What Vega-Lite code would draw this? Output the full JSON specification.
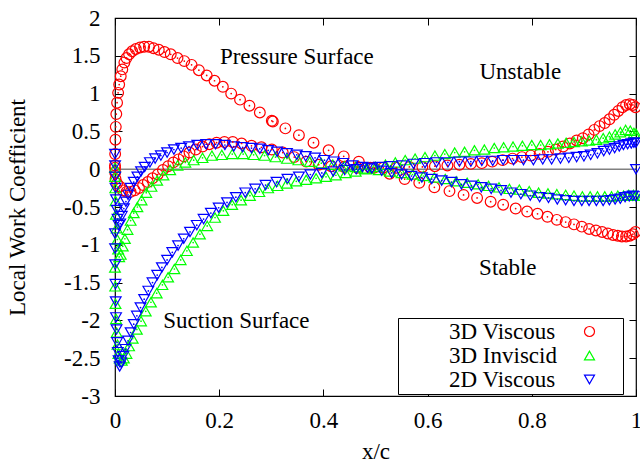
{
"$schema": "https://vega.github.io/schema/vega-lite/v6.json",
"autosize": "none",
"width": 521, "height": 378,
"padding": {"left": 115, "top": 18, "right": 4, "bottom": 70},
"background": "white",
"datasets": {
"pts": [
{"s":"3D Viscous","x":0,"y":0.02},{"s":"3D Viscous","x":0.0003,"y":0.2},{"s":"3D Viscous","x":0.0008,"y":0.39},{"s":"3D Viscous","x":0.0015,"y":0.56},{"s":"3D Viscous","x":0.0025,"y":0.73},{"s":"3D Viscous","x":0.004,"y":0.88},{"s":"3D Viscous","x":0.006,"y":1.01},{"s":"3D Viscous","x":0.008,"y":1.12},{"s":"3D Viscous","x":0.011,"y":1.23},{"s":"3D Viscous","x":0.014,"y":1.32},{"s":"3D Viscous","x":0.018,"y":1.41},{"s":"3D Viscous","x":0.022,"y":1.47},{"s":"3D Viscous","x":0.027,"y":1.52},{"s":"3D Viscous","x":0.033,"y":1.56},{"s":"3D Viscous","x":0.04,"y":1.59},{"s":"3D Viscous","x":0.048,"y":1.61},{"s":"3D Viscous","x":0.056,"y":1.62},{"s":"3D Viscous","x":0.065,"y":1.62},{"s":"3D Viscous","x":0.074,"y":1.6},{"s":"3D Viscous","x":0.084,"y":1.58},{"s":"3D Viscous","x":0.095,"y":1.55},{"s":"3D Viscous","x":0.107,"y":1.52},{"s":"3D Viscous","x":0.12,"y":1.47},{"s":"3D Viscous","x":0.133,"y":1.43},{"s":"3D Viscous","x":0.147,"y":1.38},{"s":"3D Viscous","x":0.161,"y":1.31},{"s":"3D Viscous","x":0.176,"y":1.24},{"s":"3D Viscous","x":0.191,"y":1.17},{"s":"3D Viscous","x":0.207,"y":1.09},{"s":"3D Viscous","x":0.223,"y":1.0},{"s":"3D Viscous","x":0.24,"y":0.92},{"s":"3D Viscous","x":0.258,"y":0.84},{"s":"3D Viscous","x":0.278,"y":0.75},{"s":"3D Viscous","x":0.301,"y":0.64},{"s":"3D Viscous","x":0.303,"y":0.63},{"s":"3D Viscous","x":0.327,"y":0.54},{"s":"3D Viscous","x":0.353,"y":0.45},{"s":"3D Viscous","x":0.381,"y":0.35},{"s":"3D Viscous","x":0.41,"y":0.25},{"s":"3D Viscous","x":0.439,"y":0.17},{"s":"3D Viscous","x":0.468,"y":0.1},{"s":"3D Viscous","x":0.497,"y":0.02},{"s":"3D Viscous","x":0.527,"y":-0.06},{"s":"3D Viscous","x":0.556,"y":-0.13},{"s":"3D Viscous","x":0.584,"y":-0.18},{"s":"3D Viscous","x":0.613,"y":-0.24},{"s":"3D Viscous","x":0.642,"y":-0.29},{"s":"3D Viscous","x":0.669,"y":-0.34},{"s":"3D Viscous","x":0.695,"y":-0.38},{"s":"3D Viscous","x":0.721,"y":-0.43},{"s":"3D Viscous","x":0.745,"y":-0.47},{"s":"3D Viscous","x":0.769,"y":-0.52},{"s":"3D Viscous","x":0.791,"y":-0.56},{"s":"3D Viscous","x":0.811,"y":-0.59},{"s":"3D Viscous","x":0.83,"y":-0.63},{"s":"3D Viscous","x":0.848,"y":-0.67},{"s":"3D Viscous","x":0.865,"y":-0.7},{"s":"3D Viscous","x":0.881,"y":-0.73},{"s":"3D Viscous","x":0.896,"y":-0.76},{"s":"3D Viscous","x":0.91,"y":-0.79},{"s":"3D Viscous","x":0.923,"y":-0.81},{"s":"3D Viscous","x":0.935,"y":-0.83},{"s":"3D Viscous","x":0.946,"y":-0.85},{"s":"3D Viscous","x":0.956,"y":-0.87},{"s":"3D Viscous","x":0.965,"y":-0.88},{"s":"3D Viscous","x":0.973,"y":-0.89},{"s":"3D Viscous","x":0.981,"y":-0.89},{"s":"3D Viscous","x":0.988,"y":-0.88},{"s":"3D Viscous","x":0.994,"y":-0.86},{"s":"3D Viscous","x":0.999,"y":-0.83},
{"s":"3D Viscous","x":0,"y":0.05},{"s":"3D Viscous","x":0.0003,"y":-0.04},{"s":"3D Viscous","x":0.001,"y":-0.13},{"s":"3D Viscous","x":0.004,"y":-0.19},{"s":"3D Viscous","x":0.009,"y":-0.23},{"s":"3D Viscous","x":0.015,"y":-0.28},{"s":"3D Viscous","x":0.022,"y":-0.3},{"s":"3D Viscous","x":0.03,"y":-0.3},{"s":"3D Viscous","x":0.038,"y":-0.28},{"s":"3D Viscous","x":0.046,"y":-0.25},{"s":"3D Viscous","x":0.054,"y":-0.21},{"s":"3D Viscous","x":0.063,"y":-0.17},{"s":"3D Viscous","x":0.072,"y":-0.12},{"s":"3D Viscous","x":0.082,"y":-0.07},{"s":"3D Viscous","x":0.092,"y":-0.01},{"s":"3D Viscous","x":0.102,"y":0.04},{"s":"3D Viscous","x":0.112,"y":0.09},{"s":"3D Viscous","x":0.122,"y":0.13},{"s":"3D Viscous","x":0.132,"y":0.17},{"s":"3D Viscous","x":0.143,"y":0.22},{"s":"3D Viscous","x":0.155,"y":0.26},{"s":"3D Viscous","x":0.168,"y":0.3},{"s":"3D Viscous","x":0.181,"y":0.33},{"s":"3D Viscous","x":0.195,"y":0.35},{"s":"3D Viscous","x":0.21,"y":0.36},{"s":"3D Viscous","x":0.226,"y":0.36},{"s":"3D Viscous","x":0.243,"y":0.34},{"s":"3D Viscous","x":0.262,"y":0.31},{"s":"3D Viscous","x":0.281,"y":0.29},{"s":"3D Viscous","x":0.301,"y":0.26},{"s":"3D Viscous","x":0.322,"y":0.22},{"s":"3D Viscous","x":0.344,"y":0.16},{"s":"3D Viscous","x":0.367,"y":0.1},{"s":"3D Viscous","x":0.391,"y":0.06},{"s":"3D Viscous","x":0.415,"y":0.04},{"s":"3D Viscous","x":0.44,"y":0.03},{"s":"3D Viscous","x":0.465,"y":0.02},{"s":"3D Viscous","x":0.49,"y":0.02},{"s":"3D Viscous","x":0.515,"y":0.02},{"s":"3D Viscous","x":0.54,"y":0.02},{"s":"3D Viscous","x":0.565,"y":0.03},{"s":"3D Viscous","x":0.59,"y":0.03},{"s":"3D Viscous","x":0.614,"y":0.04},{"s":"3D Viscous","x":0.638,"y":0.05},{"s":"3D Viscous","x":0.661,"y":0.06},{"s":"3D Viscous","x":0.683,"y":0.07},{"s":"3D Viscous","x":0.704,"y":0.08},{"s":"3D Viscous","x":0.724,"y":0.1},{"s":"3D Viscous","x":0.744,"y":0.12},{"s":"3D Viscous","x":0.763,"y":0.14},{"s":"3D Viscous","x":0.781,"y":0.16},{"s":"3D Viscous","x":0.798,"y":0.18},{"s":"3D Viscous","x":0.815,"y":0.2},{"s":"3D Viscous","x":0.831,"y":0.23},{"s":"3D Viscous","x":0.846,"y":0.26},{"s":"3D Viscous","x":0.86,"y":0.3},{"s":"3D Viscous","x":0.873,"y":0.34},{"s":"3D Viscous","x":0.886,"y":0.38},{"s":"3D Viscous","x":0.898,"y":0.41},{"s":"3D Viscous","x":0.909,"y":0.46},{"s":"3D Viscous","x":0.92,"y":0.52},{"s":"3D Viscous","x":0.93,"y":0.57},{"s":"3D Viscous","x":0.94,"y":0.61},{"s":"3D Viscous","x":0.949,"y":0.66},{"s":"3D Viscous","x":0.958,"y":0.72},{"s":"3D Viscous","x":0.966,"y":0.77},{"s":"3D Viscous","x":0.974,"y":0.82},{"s":"3D Viscous","x":0.981,"y":0.85},{"s":"3D Viscous","x":0.988,"y":0.86},{"s":"3D Viscous","x":0.994,"y":0.85},{"s":"3D Viscous","x":0.999,"y":0.82},
{"s":"3D Inviscid","x":0,"y":0.02},{"s":"3D Inviscid","x":0.0002,"y":-0.1},{"s":"3D Inviscid","x":0.0005,"y":-0.25},{"s":"3D Inviscid","x":0.001,"y":-0.42},{"s":"3D Inviscid","x":0.0018,"y":-0.6},{"s":"3D Inviscid","x":0.003,"y":-0.78},{"s":"3D Inviscid","x":0.0045,"y":-0.93},{"s":"3D Inviscid","x":0.006,"y":-1.06},{"s":"3D Inviscid","x":0.008,"y":-1.16},{"s":"3D Inviscid","x":0.011,"y":-1.13},{"s":"3D Inviscid","x":0.015,"y":-1.02},{"s":"3D Inviscid","x":0.019,"y":-0.92},{"s":"3D Inviscid","x":0.024,"y":-0.8},{"s":"3D Inviscid","x":0.03,"y":-0.68},{"s":"3D Inviscid","x":0.036,"y":-0.58},{"s":"3D Inviscid","x":0.043,"y":-0.5},{"s":"3D Inviscid","x":0.051,"y":-0.41},{"s":"3D Inviscid","x":0.06,"y":-0.31},{"s":"3D Inviscid","x":0.07,"y":-0.23},{"s":"3D Inviscid","x":0.081,"y":-0.15},{"s":"3D Inviscid","x":0.093,"y":-0.08},{"s":"3D Inviscid","x":0.106,"y":-0.01},{"s":"3D Inviscid","x":0.12,"y":0.05},{"s":"3D Inviscid","x":0.135,"y":0.09},{"s":"3D Inviscid","x":0.151,"y":0.12},{"s":"3D Inviscid","x":0.168,"y":0.15},{"s":"3D Inviscid","x":0.186,"y":0.18},{"s":"3D Inviscid","x":0.205,"y":0.19},{"s":"3D Inviscid","x":0.225,"y":0.2},{"s":"3D Inviscid","x":0.246,"y":0.2},{"s":"3D Inviscid","x":0.266,"y":0.19},{"s":"3D Inviscid","x":0.287,"y":0.18},{"s":"3D Inviscid","x":0.308,"y":0.16},{"s":"3D Inviscid","x":0.33,"y":0.14},{"s":"3D Inviscid","x":0.352,"y":0.12},{"s":"3D Inviscid","x":0.374,"y":0.1},{"s":"3D Inviscid","x":0.396,"y":0.08},{"s":"3D Inviscid","x":0.418,"y":0.06},{"s":"3D Inviscid","x":0.44,"y":0.04},{"s":"3D Inviscid","x":0.462,"y":0.03},{"s":"3D Inviscid","x":0.484,"y":0.01},{"s":"3D Inviscid","x":0.506,"y":-0.01},{"s":"3D Inviscid","x":0.528,"y":-0.03},{"s":"3D Inviscid","x":0.55,"y":-0.05},{"s":"3D Inviscid","x":0.571,"y":-0.07},{"s":"3D Inviscid","x":0.592,"y":-0.09},{"s":"3D Inviscid","x":0.613,"y":-0.11},{"s":"3D Inviscid","x":0.634,"y":-0.13},{"s":"3D Inviscid","x":0.655,"y":-0.16},{"s":"3D Inviscid","x":0.676,"y":-0.18},{"s":"3D Inviscid","x":0.697,"y":-0.2},{"s":"3D Inviscid","x":0.717,"y":-0.22},{"s":"3D Inviscid","x":0.737,"y":-0.24},{"s":"3D Inviscid","x":0.757,"y":-0.26},{"s":"3D Inviscid","x":0.776,"y":-0.27},{"s":"3D Inviscid","x":0.795,"y":-0.29},{"s":"3D Inviscid","x":0.813,"y":-0.31},{"s":"3D Inviscid","x":0.831,"y":-0.32},{"s":"3D Inviscid","x":0.848,"y":-0.33},{"s":"3D Inviscid","x":0.865,"y":-0.34},{"s":"3D Inviscid","x":0.881,"y":-0.35},{"s":"3D Inviscid","x":0.897,"y":-0.36},{"s":"3D Inviscid","x":0.912,"y":-0.36},{"s":"3D Inviscid","x":0.926,"y":-0.36},{"s":"3D Inviscid","x":0.94,"y":-0.36},{"s":"3D Inviscid","x":0.953,"y":-0.36},{"s":"3D Inviscid","x":0.965,"y":-0.35},{"s":"3D Inviscid","x":0.976,"y":-0.35},{"s":"3D Inviscid","x":0.986,"y":-0.34},{"s":"3D Inviscid","x":0.995,"y":-0.34},{"s":"3D Inviscid","x":1,"y":-0.35},
{"s":"3D Inviscid","x":0,"y":-1.3},{"s":"3D Inviscid","x":0.0004,"y":-1.55},{"s":"3D Inviscid","x":0.001,"y":-1.78},{"s":"3D Inviscid","x":0.002,"y":-1.98},{"s":"3D Inviscid","x":0.0032,"y":-2.16},{"s":"3D Inviscid","x":0.0047,"y":-2.32},{"s":"3D Inviscid","x":0.0065,"y":-2.44},{"s":"3D Inviscid","x":0.009,"y":-2.5},{"s":"3D Inviscid","x":0.013,"y":-2.53},{"s":"3D Inviscid","x":0.017,"y":-2.5},{"s":"3D Inviscid","x":0.022,"y":-2.44},{"s":"3D Inviscid","x":0.027,"y":-2.34},{"s":"3D Inviscid","x":0.034,"y":-2.24},{"s":"3D Inviscid","x":0.042,"y":-2.12},{"s":"3D Inviscid","x":0.05,"y":-2.01},{"s":"3D Inviscid","x":0.059,"y":-1.88},{"s":"3D Inviscid","x":0.069,"y":-1.76},{"s":"3D Inviscid","x":0.08,"y":-1.64},{"s":"3D Inviscid","x":0.091,"y":-1.53},{"s":"3D Inviscid","x":0.102,"y":-1.43},{"s":"3D Inviscid","x":0.114,"y":-1.32},{"s":"3D Inviscid","x":0.126,"y":-1.2},{"s":"3D Inviscid","x":0.138,"y":-1.08},{"s":"3D Inviscid","x":0.15,"y":-0.97},{"s":"3D Inviscid","x":0.163,"y":-0.86},{"s":"3D Inviscid","x":0.177,"y":-0.75},{"s":"3D Inviscid","x":0.192,"y":-0.64},{"s":"3D Inviscid","x":0.208,"y":-0.55},{"s":"3D Inviscid","x":0.225,"y":-0.47},{"s":"3D Inviscid","x":0.242,"y":-0.41},{"s":"3D Inviscid","x":0.259,"y":-0.35},{"s":"3D Inviscid","x":0.277,"y":-0.3},{"s":"3D Inviscid","x":0.294,"y":-0.25},{"s":"3D Inviscid","x":0.312,"y":-0.22},{"s":"3D Inviscid","x":0.33,"y":-0.19},{"s":"3D Inviscid","x":0.348,"y":-0.16},{"s":"3D Inviscid","x":0.367,"y":-0.14},{"s":"3D Inviscid","x":0.386,"y":-0.12},{"s":"3D Inviscid","x":0.405,"y":-0.1},{"s":"3D Inviscid","x":0.424,"y":-0.08},{"s":"3D Inviscid","x":0.443,"y":-0.05},{"s":"3D Inviscid","x":0.462,"y":-0.03},{"s":"3D Inviscid","x":0.481,"y":0.0},{"s":"3D Inviscid","x":0.5,"y":0.03},{"s":"3D Inviscid","x":0.519,"y":0.06},{"s":"3D Inviscid","x":0.538,"y":0.09},{"s":"3D Inviscid","x":0.557,"y":0.12},{"s":"3D Inviscid","x":0.576,"y":0.14},{"s":"3D Inviscid","x":0.595,"y":0.16},{"s":"3D Inviscid","x":0.614,"y":0.18},{"s":"3D Inviscid","x":0.633,"y":0.2},{"s":"3D Inviscid","x":0.652,"y":0.22},{"s":"3D Inviscid","x":0.671,"y":0.23},{"s":"3D Inviscid","x":0.69,"y":0.25},{"s":"3D Inviscid","x":0.709,"y":0.26},{"s":"3D Inviscid","x":0.728,"y":0.28},{"s":"3D Inviscid","x":0.746,"y":0.29},{"s":"3D Inviscid","x":0.764,"y":0.3},{"s":"3D Inviscid","x":0.782,"y":0.31},{"s":"3D Inviscid","x":0.8,"y":0.32},{"s":"3D Inviscid","x":0.817,"y":0.32},{"s":"3D Inviscid","x":0.834,"y":0.33},{"s":"3D Inviscid","x":0.85,"y":0.34},{"s":"3D Inviscid","x":0.866,"y":0.35},{"s":"3D Inviscid","x":0.881,"y":0.36},{"s":"3D Inviscid","x":0.896,"y":0.37},{"s":"3D Inviscid","x":0.91,"y":0.38},{"s":"3D Inviscid","x":0.924,"y":0.39},{"s":"3D Inviscid","x":0.937,"y":0.41},{"s":"3D Inviscid","x":0.949,"y":0.43},{"s":"3D Inviscid","x":0.96,"y":0.46},{"s":"3D Inviscid","x":0.97,"y":0.49},{"s":"3D Inviscid","x":0.98,"y":0.52},{"s":"3D Inviscid","x":0.989,"y":0.51},{"s":"3D Inviscid","x":0.996,"y":0.48},{"s":"3D Inviscid","x":1,"y":0.47},
{"s":"2D Viscous","x":0,"y":0.2},{"s":"2D Viscous","x":0.0002,"y":0.05},{"s":"2D Viscous","x":0.0005,"y":-0.1},{"s":"2D Viscous","x":0.001,"y":-0.25},{"s":"2D Viscous","x":0.002,"y":-0.4},{"s":"2D Viscous","x":0.0035,"y":-0.54},{"s":"2D Viscous","x":0.005,"y":-0.66},{"s":"2D Viscous","x":0.007,"y":-0.74},{"s":"2D Viscous","x":0.01,"y":-0.72},{"s":"2D Viscous","x":0.013,"y":-0.62},{"s":"2D Viscous","x":0.017,"y":-0.52},{"s":"2D Viscous","x":0.021,"y":-0.43},{"s":"2D Viscous","x":0.025,"y":-0.34},{"s":"2D Viscous","x":0.03,"y":-0.25},{"s":"2D Viscous","x":0.036,"y":-0.17},{"s":"2D Viscous","x":0.043,"y":-0.1},{"s":"2D Viscous","x":0.05,"y":-0.03},{"s":"2D Viscous","x":0.057,"y":0.03},{"s":"2D Viscous","x":0.067,"y":0.09},{"s":"2D Viscous","x":0.077,"y":0.14},{"s":"2D Viscous","x":0.088,"y":0.18},{"s":"2D Viscous","x":0.1,"y":0.22},{"s":"2D Viscous","x":0.113,"y":0.26},{"s":"2D Viscous","x":0.127,"y":0.28},{"s":"2D Viscous","x":0.142,"y":0.3},{"s":"2D Viscous","x":0.158,"y":0.32},{"s":"2D Viscous","x":0.175,"y":0.33},{"s":"2D Viscous","x":0.193,"y":0.33},{"s":"2D Viscous","x":0.211,"y":0.32},{"s":"2D Viscous","x":0.228,"y":0.3},{"s":"2D Viscous","x":0.245,"y":0.29},{"s":"2D Viscous","x":0.262,"y":0.28},{"s":"2D Viscous","x":0.278,"y":0.27},{"s":"2D Viscous","x":0.294,"y":0.25},{"s":"2D Viscous","x":0.311,"y":0.23},{"s":"2D Viscous","x":0.33,"y":0.21},{"s":"2D Viscous","x":0.349,"y":0.19},{"s":"2D Viscous","x":0.366,"y":0.17},{"s":"2D Viscous","x":0.384,"y":0.15},{"s":"2D Viscous","x":0.402,"y":0.12},{"s":"2D Viscous","x":0.42,"y":0.1},{"s":"2D Viscous","x":0.438,"y":0.08},{"s":"2D Viscous","x":0.456,"y":0.05},{"s":"2D Viscous","x":0.475,"y":0.03},{"s":"2D Viscous","x":0.493,"y":0.01},{"s":"2D Viscous","x":0.512,"y":-0.02},{"s":"2D Viscous","x":0.531,"y":-0.05},{"s":"2D Viscous","x":0.55,"y":-0.07},{"s":"2D Viscous","x":0.569,"y":-0.09},{"s":"2D Viscous","x":0.589,"y":-0.11},{"s":"2D Viscous","x":0.608,"y":-0.13},{"s":"2D Viscous","x":0.627,"y":-0.15},{"s":"2D Viscous","x":0.646,"y":-0.17},{"s":"2D Viscous","x":0.665,"y":-0.2},{"s":"2D Viscous","x":0.684,"y":-0.22},{"s":"2D Viscous","x":0.703,"y":-0.24},{"s":"2D Viscous","x":0.722,"y":-0.26},{"s":"2D Viscous","x":0.741,"y":-0.28},{"s":"2D Viscous","x":0.76,"y":-0.31},{"s":"2D Viscous","x":0.779,"y":-0.33},{"s":"2D Viscous","x":0.797,"y":-0.35},{"s":"2D Viscous","x":0.815,"y":-0.37},{"s":"2D Viscous","x":0.832,"y":-0.38},{"s":"2D Viscous","x":0.849,"y":-0.4},{"s":"2D Viscous","x":0.865,"y":-0.41},{"s":"2D Viscous","x":0.881,"y":-0.42},{"s":"2D Viscous","x":0.896,"y":-0.42},{"s":"2D Viscous","x":0.91,"y":-0.42},{"s":"2D Viscous","x":0.924,"y":-0.42},{"s":"2D Viscous","x":0.937,"y":-0.42},{"s":"2D Viscous","x":0.949,"y":-0.41},{"s":"2D Viscous","x":0.96,"y":-0.4},{"s":"2D Viscous","x":0.97,"y":-0.39},{"s":"2D Viscous","x":0.979,"y":-0.37},{"s":"2D Viscous","x":0.987,"y":-0.36},{"s":"2D Viscous","x":0.994,"y":-0.35},{"s":"2D Viscous","x":1,"y":-0.36},
{"s":"2D Viscous","x":0,"y":-0.85},{"s":"2D Viscous","x":0.0002,"y":-1.05},{"s":"2D Viscous","x":0.0005,"y":-1.26},{"s":"2D Viscous","x":0.0009,"y":-1.52},{"s":"2D Viscous","x":0.0014,"y":-1.75},{"s":"2D Viscous","x":0.002,"y":-1.96},{"s":"2D Viscous","x":0.003,"y":-2.12},{"s":"2D Viscous","x":0.004,"y":-2.29},{"s":"2D Viscous","x":0.0055,"y":-2.42},{"s":"2D Viscous","x":0.007,"y":-2.53},{"s":"2D Viscous","x":0.009,"y":-2.61},{"s":"2D Viscous","x":0.012,"y":-2.56},{"s":"2D Viscous","x":0.016,"y":-2.47},{"s":"2D Viscous","x":0.02,"y":-2.38},{"s":"2D Viscous","x":0.025,"y":-2.27},{"s":"2D Viscous","x":0.03,"y":-2.16},{"s":"2D Viscous","x":0.036,"y":-2.05},{"s":"2D Viscous","x":0.042,"y":-1.94},{"s":"2D Viscous","x":0.049,"y":-1.83},{"s":"2D Viscous","x":0.056,"y":-1.72},{"s":"2D Viscous","x":0.064,"y":-1.61},{"s":"2D Viscous","x":0.072,"y":-1.5},{"s":"2D Viscous","x":0.081,"y":-1.4},{"s":"2D Viscous","x":0.09,"y":-1.3},{"s":"2D Viscous","x":0.1,"y":-1.2},{"s":"2D Viscous","x":0.11,"y":-1.1},{"s":"2D Viscous","x":0.121,"y":-1.01},{"s":"2D Viscous","x":0.132,"y":-0.92},{"s":"2D Viscous","x":0.144,"y":-0.83},{"s":"2D Viscous","x":0.157,"y":-0.74},{"s":"2D Viscous","x":0.17,"y":-0.66},{"s":"2D Viscous","x":0.184,"y":-0.58},{"s":"2D Viscous","x":0.199,"y":-0.51},{"s":"2D Viscous","x":0.215,"y":-0.44},{"s":"2D Viscous","x":0.232,"y":-0.37},{"s":"2D Viscous","x":0.25,"y":-0.31},{"s":"2D Viscous","x":0.269,"y":-0.26},{"s":"2D Viscous","x":0.289,"y":-0.21},{"s":"2D Viscous","x":0.31,"y":-0.17},{"s":"2D Viscous","x":0.331,"y":-0.13},{"s":"2D Viscous","x":0.353,"y":-0.1},{"s":"2D Viscous","x":0.375,"y":-0.07},{"s":"2D Viscous","x":0.397,"y":-0.05},{"s":"2D Viscous","x":0.419,"y":-0.03},{"s":"2D Viscous","x":0.441,"y":-0.01},{"s":"2D Viscous","x":0.463,"y":0.0},{"s":"2D Viscous","x":0.485,"y":0.02},{"s":"2D Viscous","x":0.507,"y":0.03},{"s":"2D Viscous","x":0.529,"y":0.04},{"s":"2D Viscous","x":0.551,"y":0.05},{"s":"2D Viscous","x":0.573,"y":0.07},{"s":"2D Viscous","x":0.595,"y":0.08},{"s":"2D Viscous","x":0.617,"y":0.09},{"s":"2D Viscous","x":0.639,"y":0.09},{"s":"2D Viscous","x":0.661,"y":0.1},{"s":"2D Viscous","x":0.683,"y":0.1},{"s":"2D Viscous","x":0.704,"y":0.11},{"s":"2D Viscous","x":0.725,"y":0.11},{"s":"2D Viscous","x":0.745,"y":0.12},{"s":"2D Viscous","x":0.765,"y":0.12},{"s":"2D Viscous","x":0.784,"y":0.12},{"s":"2D Viscous","x":0.803,"y":0.12},{"s":"2D Viscous","x":0.821,"y":0.13},{"s":"2D Viscous","x":0.838,"y":0.13},{"s":"2D Viscous","x":0.855,"y":0.14},{"s":"2D Viscous","x":0.871,"y":0.15},{"s":"2D Viscous","x":0.886,"y":0.16},{"s":"2D Viscous","x":0.9,"y":0.17},{"s":"2D Viscous","x":0.913,"y":0.19},{"s":"2D Viscous","x":0.926,"y":0.21},{"s":"2D Viscous","x":0.938,"y":0.24},{"s":"2D Viscous","x":0.949,"y":0.26},{"s":"2D Viscous","x":0.959,"y":0.28},{"s":"2D Viscous","x":0.968,"y":0.3},{"s":"2D Viscous","x":0.976,"y":0.32},{"s":"2D Viscous","x":0.984,"y":0.33},{"s":"2D Viscous","x":0.991,"y":0.34},{"s":"2D Viscous","x":0.996,"y":0.35},{"s":"2D Viscous","x":1,"y":0.35},{"s":"2D Viscous","x":1,"y":0.0}
],
"notes": [
{"t":"Pressure Surface","x":0.349,"y":1.39},
{"t":"Unstable","x":0.778,"y":1.19},
{"t":"Stable","x":0.754,"y":-1.4},
{"t":"Suction Surface","x":0.233,"y":-2.1}
]
},
"layer": [
{
"data": {"values": [{}]},
"mark": {"type": "rule", "color": "#808080", "strokeWidth": 1.5},
"encoding": {"y": {"datum": 0, "type": "quantitative", "axis": null}}
},
{
"data": {"name": "pts"},
"mark": {"type": "point", "filled": false, "fill": null, "strokeWidth": 1.2, "opacity": 1, "size": 115},
"encoding": {
"x": {"field": "x", "type": "quantitative", "scale": {"domain": [0, 1], "nice": false, "zero": false},
"axis": {"orient": "bottom", "values": [0, 0.2, 0.4, 0.6, 0.8, 1], "labelExpr": "toString(datum.value)", "title": "x/c", "labelPadding": 20, "titlePadding": 8}},
"y": {"field": "y", "type": "quantitative", "scale": {"domain": [-3, 2], "nice": false, "zero": false},
"axis": {"orient": "left", "values": [-3, -2.5, -2, -1.5, -1, -0.5, 0, 0.5, 1, 1.5, 2], "labelExpr": "toString(datum.value)", "title": "Local Work Coefficient", "labelPadding": 22, "titlePadding": 34}},
"stroke": {"field": "s", "type": "nominal",
"scale": {"domain": ["3D Viscous", "3D Inviscid", "2D Viscous"], "range": ["#ff0000", "#00ff00", "#0000ff"]},
"legend": {"title": null, "orient": "none", "legendX": 283, "legendY": 300, "symbolFillColor": "transparent",
"labelExpr": "'\u200b\u00a0\u00a0\u00a0\u00a0\u00a0\u00a0\u00a0\u00a0' + datum.label + '\u00a0\u00a0\u00a0\u00a0\u00a0\u00a0\u00a0\u00a0\u00a0\u00a0\u00a0\u200b'"}},
"shape": {"field": "s", "type": "nominal",
"scale": {"domain": ["3D Viscous", "3D Inviscid", "2D Viscous"], "range": ["circle", "triangle-up", "triangle-down"]},
"legend": {"title": null, "orient": "none", "legendX": 283, "legendY": 300, "symbolFillColor": "transparent",
"labelExpr": "'\u200b\u00a0\u00a0\u00a0\u00a0\u00a0\u00a0\u00a0\u00a0' + datum.label + '\u00a0\u00a0\u00a0\u00a0\u00a0\u00a0\u00a0\u00a0\u00a0\u00a0\u00a0\u200b'"}}
}
},
{
"data": {"name": "pts"},
"transform": [{"filter": "datum.s == '3D Viscous'"}],
"mark": {"type": "circle", "size": 3, "opacity": 1, "color": "#ff0000"},
"encoding": {"x": {"field": "x", "type": "quantitative", "axis": null}, "y": {"field": "y", "type": "quantitative", "axis": null}}
},
{
"data": {"name": "pts"},
"transform": [{"filter": "datum.s == '3D Inviscid'"}],
"mark": {"type": "circle", "size": 3, "opacity": 1, "color": "#00ff00"},
"encoding": {"x": {"field": "x", "type": "quantitative", "axis": null}, "y": {"field": "y", "type": "quantitative", "axis": null}}
},
{
"data": {"name": "pts"},
"transform": [{"filter": "datum.s == '2D Viscous'"}],
"mark": {"type": "circle", "size": 3, "opacity": 1, "color": "#0000ff"},
"encoding": {"x": {"field": "x", "type": "quantitative", "axis": null}, "y": {"field": "y", "type": "quantitative", "axis": null}}
},
{
"data": {"name": "notes"},
"mark": {"type": "text", "font": "Liberation Serif", "fontSize": 23, "align": "center", "baseline": "alphabetic", "color": "black"},
"encoding": {
"x": {"field": "x", "type": "quantitative", "axis": {"orient": "top", "values": [0, 0.2, 0.4, 0.6, 0.8, 1], "labels": false, "title": null}},
"y": {"field": "y", "type": "quantitative", "axis": {"orient": "right", "values": [-3, -2.5, -2, -1.5, -1, -0.5, 0, 0.5, 1, 1.5, 2], "labels": false, "title": null}},
"text": {"field": "t", "type": "nominal"}
}
}
],
"resolve": {"axis": {"x": "independent", "y": "independent"}},
"config": {
"view": {"stroke": "black", "strokeWidth": 1.2},
"axis": {"domain": false, "grid": false, "tickSize": -7, "tickColor": "black", "tickWidth": 1,
"labelFont": "Liberation Serif", "labelFontSize": 23, "labelColor": "black", "labelFlush": false, "labelOverlap": false,
"titleFont": "Liberation Serif", "titleFontSize": 23, "titleFontWeight": "normal", "titleColor": "black"},
"legend": {"labelFont": "Liberation Serif", "labelFontSize": 23, "labelColor": "black", "labelAlign": "left", "labelBaseline": "middle",
"labelOffset": -198, "symbolOffset": 178, "labelLimit": 600, "strokeColor": "black", "fillColor": "white", "padding": 2,
"rowPadding": -3, "clipHeight": 23, "symbolStrokeWidth": 1.2, "symbolFillColor": "transparent", "symbolSize": 100}
}
}
